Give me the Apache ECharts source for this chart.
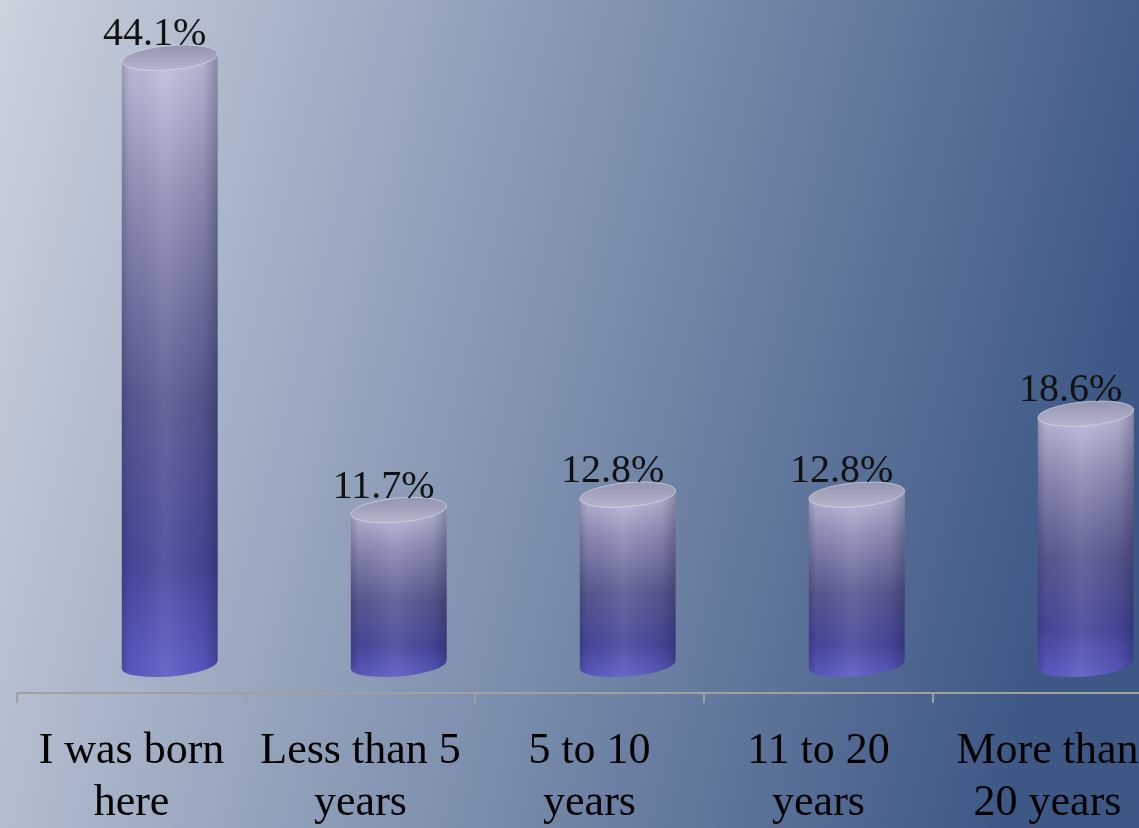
<!DOCTYPE html>
<html>
<head>
<meta charset="utf-8">
<script src="https://cdn.jsdelivr.net/npm/echarts@6/dist/echarts.min.js"></script>
<style>
  html, body { margin: 0; padding: 0; }
  #chart { width: 1139px; height: 828px; }
</style>
</head>
<body>
<div id="chart"></div>
<script>
// years lived in the area - cylinder columns
var categories = ['I was born\nhere', 'Less than 5\nyears', '5 to 10\nyears', '11 to 20\nyears', 'More than\n20 years'];
var shares = [44.1, 11.7, 12.8, 12.8, 18.6];

var chart = echarts.init(document.getElementById('chart'));

function cylinder(params, api) {
  var idx = api.value(0);
  var val = api.value(1);
  var top = api.coord([idx, val]);
  var base = api.coord([idx, 0]);
  var band = api.size([1, 0])[0];
  var rx = band * 0.21;
  var ry = 12;
  var cx = top[0] + band * 0.167;
  var ty = top[1];
  var by = base[1] - 9;
  var a = 5 * Math.PI / 180;
  var dx = rx * Math.cos(a), dy = rx * Math.sin(a);

  var body = 'M' + (cx - dx) + ' ' + (ty + dy) +
    ' L' + (cx - dx) + ' ' + (by + dy) +
    ' A' + rx + ' ' + ry + ' -5 0 0 ' + (cx + dx) + ' ' + (by - dy) +
    ' L' + (cx + dx) + ' ' + (ty - dy) + ' Z';
  var cap = 'M' + (cx - dx) + ' ' + (ty + dy) +
    ' A' + rx + ' ' + ry + ' -5 1 0 ' + (cx + dx) + ' ' + (ty - dy) +
    ' A' + rx + ' ' + ry + ' -5 1 0 ' + (cx - dx) + ' ' + (ty + dy) + ' Z';

  return {
    type: 'group',
    children: [{
      type: 'path',
      shape: { pathData: body },
      style: {
        fill: new echarts.graphic.LinearGradient(0, 0, 0, 1, [
          { offset: 0, color: '#c2c2de' },
          { offset: 0.25, color: '#8c8cb6' },
          { offset: 0.55, color: '#5a5a92' },
          { offset: 0.82, color: '#48489c' },
          { offset: 1, color: '#5c5cc6' }
        ])
      }
    }, {
      type: 'path',
      shape: { pathData: body },
      style: {
        fill: new echarts.graphic.LinearGradient(0, 0, 1, 0, [
          { offset: 0, color: 'rgba(10,10,40,0.22)' },
          { offset: 0.08, color: 'rgba(10,10,40,0.05)' },
          { offset: 0.45, color: 'rgba(255,255,255,0.08)' },
          { offset: 0.85, color: 'rgba(10,10,40,0.08)' },
          { offset: 1, color: 'rgba(10,10,40,0.3)' }
        ])
      }
    }, {
      type: 'path',
      shape: { pathData: cap },
      style: {
        fill: new echarts.graphic.LinearGradient(0, 0, 0, 1, [
          { offset: 0, color: '#9595b0' },
          { offset: 1, color: '#b4b4cc' }
        ]),
        stroke: 'rgba(215,215,232,0.7)',
        lineWidth: 1
      }
    }, {
      type: 'text',
      style: {
        text: val.toFixed(1) + '%',
        x: cx - 15,
        y: ty - ry + 9,
        align: 'center',
        verticalAlign: 'bottom',
        fill: '#111',
        font: '40px "Liberation Serif", "DejaVu Serif", serif'
      }
    }]
  };
}

var option = {
  backgroundColor: new echarts.graphic.LinearGradient(0, 0, 1, 0.35, [
    { offset: 0, color: '#cbd1dd' },
    { offset: 0.45, color: '#8a9bb6' },
    { offset: 1, color: '#3e5886' }
  ]),
  grid: { left: 17, width: 1145, top: 20, bottom: 135, outerBoundsMode: 'none', containLabel: false },
  xAxis: {
    type: 'category',
    data: categories,
    axisLine: { show: true, onZero: false, lineStyle: { color: '#a0a0a0', width: 2 } },
    axisTick: { show: true, length: 10, lineStyle: { color: '#a0a0a0', width: 2 } },
    axisLabel: {
      interval: 0,
      margin: 32,
      color: '#000',
      fontSize: 44,
      lineHeight: 52,
      fontFamily: '"Liberation Serif", "DejaVu Serif", serif'
    }
  },
  yAxis: { type: 'value', min: -1.4, max: 46.8, show: false },
  series: [{
    type: 'custom',
    renderItem: cylinder,
    clip: false,
    encode: { x: 0, y: 1 },
    data: shares.map(function (v, i) { return [i, v]; })
  }]
};
chart.setOption(option);
window.addEventListener('resize', function () { chart.resize(); });
</script>
</body>
</html>
